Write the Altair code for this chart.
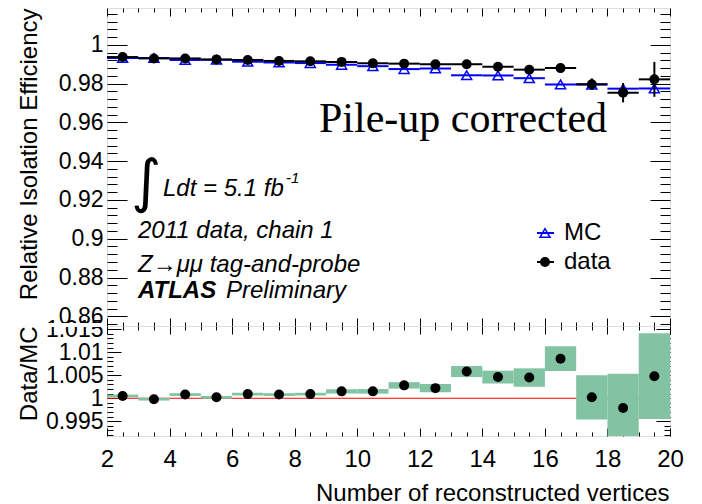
import altair as alt
import numpy as np
import pandas as pd

# Isolation efficiency vs. number of reconstructed vertices (bin centres)
n_vertices = [2.5, 3.5, 4.5, 5.5, 6.5, 7.5, 8.5, 9.5, 10.5, 11.5, 12.5,
              13.5, 14.5, 15.5, 16.5, 17.5, 18.5, 19.5]
eff_data = [0.9937, 0.9930, 0.9930, 0.9925, 0.9922, 0.9917, 0.9915, 0.9912,
            0.9905, 0.9903, 0.9900, 0.9900, 0.9887, 0.9872, 0.9880, 0.9797,
            0.9753, 0.9822]
eff_data_err = [0.0003, 0.0003, 0.0003, 0.0003, 0.0003, 0.0003, 0.0003,
                0.0004, 0.0004, 0.0005, 0.0006, 0.0008, 0.0010, 0.0013,
                0.0018, 0.0030, 0.0050, 0.0090]
eff_mc = [0.9932, 0.9932, 0.9922, 0.9923, 0.9913, 0.9909, 0.9906, 0.9897,
          0.9890, 0.9875, 0.9878, 0.9843, 0.9842, 0.9828, 0.9796, 0.9795,
          0.9774, 0.9775]
ratio = [1.0005, 0.9998, 1.0008, 1.0002, 1.0009, 1.0008, 1.0009, 1.0015,
         1.0015, 1.0028, 1.0022, 1.0058, 1.0046, 1.0045, 1.0086, 1.0002,
         0.9979, 1.0048]
ratio_err = [0.0003, 0.0003, 0.0003, 0.0003, 0.0003, 0.0003, 0.0003, 0.00045,
             0.0005, 0.0007, 0.0009, 0.0012, 0.0014, 0.0020, 0.0027, 0.0048,
             0.0074, 0.0093]
bin_half_width = 0.5

eff_ticks = [0.86, 0.88, 0.9, 0.92, 0.94, 0.96, 0.98, 1.0]
ratio_ticks = [0.995, 1.0, 1.005, 1.01, 1.015]
x_ticks = [2, 4, 6, 8, 10, 12, 14, 16, 18, 20]

annotation_lines = ["2011 data, chain 1", "Z\u2192\u03bc\u03bc tag-and-probe"]
lumi_text = "Ldt = 5.1 fb"
lumi_exp = "-1"
legend_labels = ["MC", "data"]

FONT = "Liberation Sans"
BLUE = "#0000ff"
GREEN = "#82c3a3"
W, H1, H2 = 563, 318, 110

df = pd.DataFrame({
    "n": n_vertices,
    "eff": eff_data,
    "mc": eff_mc,
    "ratio": ratio,
})
df["lo"] = df["n"] - bin_half_width
df["hi"] = df["n"] + bin_half_width
df["d_lo"] = df["eff"] - np.array(eff_data_err)
df["d_hi"] = df["eff"] + np.array(eff_data_err)
df["r_lo"] = df["ratio"] - np.array(ratio_err)
df["r_hi"] = df["ratio"] + np.array(ratio_err)

xs = alt.Scale(domain=[2, 20], nice=False, zero=False)
ys1 = alt.Scale(domain=[0.855, 1.019], nice=False, zero=False)
ys2 = alt.Scale(domain=[0.9918, 1.0157], nice=False, zero=False)

# tick positions (major + minor) for the inward-pointing frame ticks
x_tick_vals = [float(v) for v in np.arange(2, 20.01, 0.5)]
y1_tick_vals = [float(v) for v in np.round(np.arange(0.856, 1.0181, 0.004), 3)]
y2_tick_vals = [float(v) for v in np.round(np.arange(0.992, 1.0151, 0.001), 3)]
X_MAJOR = "abs(datum.value / 2 - round(datum.value / 2)) < 1e-6"
Y1_MAJOR = "abs(datum.value * 50 - round(datum.value * 50)) < 1e-6"
Y2_MAJOR = "abs(datum.value * 200 - round(datum.value * 200)) < 1e-6"


def tick_axis(orient, offset, values, test, major, minor):
    return alt.Axis(orient=orient, offset=offset, values=values, labels=False,
                    domain=False, grid=False, title=None, ticks=True,
                    tickColor="black", tickWidth=1,
                    tickSize={"condition": {"test": test, "value": major},
                              "value": minor})


def label_axis_y(values, title):
    return alt.Axis(orient="left", values=values, format="~g", ticks=False,
                    tickSize=0, domain=False, grid=False, labelFont=FONT,
                    labelFontSize=23, labelColor="black", labelPadding=4,
                    labelFlush=False, labelOverlap=False,
                    title=title, titleFont=FONT, titleFontSize=24,
                    titleFontWeight="normal", titleColor="black",
                    titleAngle=-90, titleAlign="right", titleBaseline="top",
                    titleX=-90, titleY=0)


base = alt.Chart(df)

# ---------------- upper pad: efficiencies ----------------
mc_lines = base.mark_rule(color=BLUE, strokeWidth=2).encode(
    x=alt.X("lo:Q", scale=xs, axis=tick_axis("bottom", -H1, x_tick_vals, X_MAJOR, 8, 4)),
    x2="hi",
    y=alt.Y("mc:Q", scale=ys1, axis=label_axis_y(eff_ticks, "Relative Isolation Efficiency")),
)
mc_pts = base.mark_point(shape="triangle-up", filled=False, color=BLUE,
                         size=100, strokeWidth=1.5, opacity=1).encode(
    x=alt.X("n:Q", scale=xs, axis=tick_axis("top", -H1, x_tick_vals, X_MAJOR, 8, 4)),
    y=alt.Y("mc:Q", scale=ys1, axis=tick_axis("right", -W, y1_tick_vals, Y1_MAJOR, 20, 10)),
)
data_err = base.mark_rule(color="black", strokeWidth=2).encode(
    x=alt.X("n:Q", scale=xs, axis=None),
    y=alt.Y("d_lo:Q", scale=ys1, axis=tick_axis("left", -W, y1_tick_vals, Y1_MAJOR, 20, 10)),
    y2="d_hi",
)
data_h = base.mark_rule(color="black", strokeWidth=2).encode(
    x=alt.X("lo:Q", scale=xs, axis=None),
    x2="hi",
    y=alt.Y("eff:Q", scale=ys1, axis=None),
)
data_pts = base.mark_circle(color="black", size=100, opacity=1).encode(
    x=alt.X("n:Q", scale=xs, axis=None),
    y=alt.Y("eff:Q", scale=ys1, axis=None),
)


def label(text, x, y, size=24, style="italic", weight="normal", font=FONT,
          align="left", baseline="alphabetic"):
    return alt.Chart(pd.DataFrame({"t": [text]})).mark_text(
        font=font, fontSize=size, fontStyle=style, fontWeight=weight,
        align=align, baseline=baseline, color="black",
    ).encode(x=alt.value(x), y=alt.value(y), text="t:N")


texts = [
    label("Pile-up corrected", 356, 124, size=42, style="normal",
          font="Liberation Serif", align="center"),
    label("\u222b", 39, 176, size=58, style="normal", align="center",
          baseline="middle", font="DejaVu Sans"),
    label(lumi_text, 56, 188),
    label(lumi_exp, 179, 175, size=15),
    label(annotation_lines[0], 31, 230),
    label(annotation_lines[1], 31, 264),
    label("ATLAS", 31, 290, weight="bold"),
    label("Preliminary", 119, 290),
    label(legend_labels[0], 457, 225, style="normal", baseline="middle"),
    label(legend_labels[1], 457, 254, style="normal", baseline="middle"),
]

leg = alt.Chart(pd.DataFrame({"k": [0]}))
legend_marks = [
    leg.mark_rule(color=BLUE, strokeWidth=2).encode(
        x=alt.value(430), x2=alt.value(447), y=alt.value(225)),
    leg.mark_point(shape="triangle-up", filled=False, color=BLUE, size=100,
                   strokeWidth=1.5, opacity=1).encode(
        x=alt.value(438), y=alt.value(225)),
    leg.mark_rule(color="black", strokeWidth=2).encode(
        x=alt.value(430), x2=alt.value(447), y=alt.value(254)),
    leg.mark_circle(color="black", size=100, opacity=1).encode(
        x=alt.value(438), y=alt.value(254)),
]

top = alt.layer(mc_lines, mc_pts, data_err, data_h, data_pts,
                *legend_marks, *texts).resolve_axis(
    x="independent", y="independent").properties(width=W, height=H1)

# ---------------- lower pad: data / MC ----------------
unity = alt.Chart(pd.DataFrame({"x0": [2.0], "x1": [20.0], "y": [1.0]})).mark_rule(
    color="red", strokeWidth=1).encode(
    x=alt.X("x0:Q", scale=xs, axis=alt.Axis(
        orient="bottom", values=x_ticks, format="d", ticks=False, tickSize=0,
        domain=False, grid=False, labelFont=FONT, labelFontSize=24,
        labelColor="black", labelPadding=11, labelFlush=False,
        labelOverlap=False,
        title="Number of reconstructed vertices", titleFont=FONT,
        titleFontSize=24, titleFontWeight="normal", titleColor="black",
        titleAlign="right", titleBaseline="alphabetic", titleX=562,
        titleY=64)),
    x2="x1",
    y=alt.Y("y:Q", scale=ys2, axis=label_axis_y(ratio_ticks, "Data/MC")),
)
bands = base.mark_rect(color=GREEN, clip=True).encode(
    x=alt.X("lo:Q", scale=xs, axis=tick_axis("top", -H2, x_tick_vals, X_MAJOR, 8, 4)),
    x2="hi",
    y=alt.Y("r_lo:Q", scale=ys2, axis=tick_axis("right", -W, y2_tick_vals, Y2_MAJOR, 14, 6)),
    y2="r_hi",
)
ratio_pts = base.mark_circle(color="black", size=100, opacity=1).encode(
    x=alt.X("n:Q", scale=xs, axis=tick_axis("bottom", -H2, x_tick_vals, X_MAJOR, 8, 4)),
    y=alt.Y("ratio:Q", scale=ys2, axis=tick_axis("left", -W, y2_tick_vals, Y2_MAJOR, 14, 6)),
)
# pad edge: hides the label overhang across the pad boundary
pad_edge = alt.Chart(pd.DataFrame({"k": [0]})).mark_rect(color="white").encode(
    x=alt.value(-85), x2=alt.value(-2), y=alt.value(-3), y2=alt.value(1))

bottom = alt.layer(unity, bands, ratio_pts, pad_edge).resolve_axis(
    x="independent", y="independent").properties(width=W, height=H2)

chart = alt.vconcat(top, bottom, spacing=0, bounds="flush").properties(
    padding={"left": 16, "top": 7, "right": 0, "bottom": 0},
).configure_view(stroke="black", strokeWidth=1).configure(background="white")

chart.save("out.html", embed_options={"renderer": "svg", "actions": False})
